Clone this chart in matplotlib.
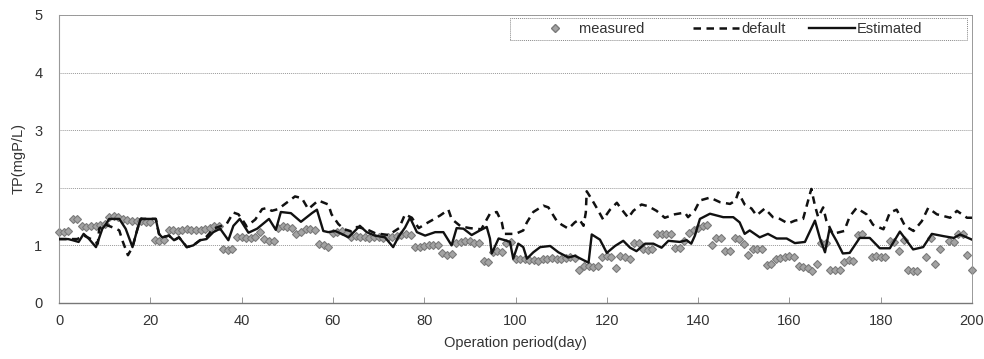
import matplotlib
matplotlib.use("Agg")
import matplotlib.pyplot as plt
from matplotlib.lines import Line2D
from matplotlib.patches import Rectangle

plt.rcParams['font.family'] = ['Liberation Sans', 'DejaVu Sans']

# ---- data ----
meas_day = list(range(0, 177)) + [178, 179, 180, 181, 182, 183, 184, 185, 186, 187, 188,
                                   190, 191, 192, 193, 195, 196, 197, 198, 199, 200]
meas_val = [1.24, 1.24, 1.25, 1.46, 1.45, 1.33, 1.32, 1.33, 1.34, 1.36, 1.37, 1.50, 1.51, 1.50,
            1.45, 1.44, 1.43, 1.43, 1.42, 1.40, 1.40, 1.09, 1.08, 1.09, 1.26, 1.27, 1.25, 1.27,
            1.28, 1.27, 1.26, 1.27, 1.28, 1.30, 1.33, 1.34, 0.93, 0.92, 0.93, 1.14, 1.15, 1.13,
            1.12, 1.15, 1.23, 1.11, 1.08, 1.07, 1.31, 1.33, 1.32, 1.31, 1.20, 1.24, 1.28, 1.29,
            1.27, 1.03, 1.00, 0.98, 1.22, 1.23, 1.25, 1.22, 1.15, 1.16, 1.14, 1.15, 1.13, 1.14,
            1.15, 1.13, 1.14, 1.15, 1.17, 1.18, 1.19, 1.18, 0.98, 0.97, 0.99, 1.00, 1.01, 1.00,
            0.86, 0.84, 0.85, 1.05, 1.06, 1.08, 1.07, 1.05, 1.04, 0.73, 0.72, 0.88, 0.90, 0.89,
            1.05, 1.06, 0.77, 0.76, 0.77, 0.75, 0.74, 0.73, 0.76, 0.77, 0.78, 0.77, 0.76, 0.78,
            0.79, 0.78, 0.58, 0.65, 0.64, 0.63, 0.64, 0.80, 0.81, 0.80, 0.61, 0.82, 0.80, 0.77,
            1.05, 1.05, 0.93, 0.92, 0.94, 1.19, 1.20, 1.19, 1.20, 0.95, 0.96, 1.07, 1.22, 1.27,
            1.30, 1.33, 1.36, 1.00, 1.13, 1.13, 0.90, 0.91, 1.12, 1.11, 1.02, 0.83, 0.94, 0.93,
            0.94, 0.66, 0.67, 0.76, 0.78, 0.80, 0.81, 0.80, 0.64, 0.62, 0.60, 0.56, 0.67, 1.04,
            1.05, 0.58, 0.57, 0.58, 0.72, 0.74, 0.73, 1.18, 1.19,
            0.80, 0.81, 0.79, 0.80, 1.07, 1.06, 0.90, 1.10, 0.57, 0.55, 0.55,
            0.79, 1.13, 0.67, 0.93, 1.07, 1.06, 1.20, 1.20, 0.84, 0.58]

def_day = [0, 4, 5.5, 7, 8.5, 8.8, 9.9, 12.5, 13.2, 14, 15.1, 16.1, 17.2, 17.9, 21.2, 21.9,
           22.6, 24.1, 25.2, 26.3, 28, 29.4, 30.9, 32.3, 33.8, 36.7, 38.2, 39.3, 40.3, 41.1,
           43, 44.5, 45.6, 46.6, 48, 49.5, 51.7, 53.2, 54.6, 56.8, 59, 59.7, 61.2, 62.5, 64.2,
           65.3, 67.4, 69.3, 72.2, 74.5, 75.8, 77.3, 78.8, 80.2, 82, 83.5, 85.3, 86, 88, 90,
           92.5, 94.4, 95.9, 97, 97.5, 100, 101.7, 102.5, 103.9, 106.1, 107.2, 109, 110.1,
           111.6, 113, 114, 114.9, 115.4, 115.6, 116.7, 117.8, 119.2, 120.7, 122.2, 123.3,
           124.7, 125.8, 127.6, 129.1, 130.9, 132.7, 134.9, 137.1, 137.8, 139.3, 140.4, 142.6,
           144.8, 147, 148.2, 148.8, 150.2, 151.7, 152.8, 154.6, 156.4, 157.9, 159.7, 161.2,
           163, 163.7, 164.8, 165.6, 166.3, 167.4, 168.1, 169.5, 172, 173.2, 174.7, 176.9,
           178.3, 180.6, 182, 183.5, 185.3, 187.2, 189, 190.4, 192.3, 195.2, 196.7, 198.9, 200]
def_val = [1.11, 1.11, 1.17, 1.11, 1.03, 1.29, 1.37, 1.29, 1.26, 1.06, 0.83, 0.97, 1.29, 1.46,
           1.46, 1.20, 1.14, 1.17, 1.09, 1.14, 0.97, 1.00, 1.09, 1.15, 1.29, 1.37, 1.57, 1.54,
           1.43, 1.33, 1.45, 1.63, 1.65, 1.60, 1.63, 1.72, 1.85, 1.82, 1.63, 1.78, 1.71, 1.54,
           1.37, 1.28, 1.24, 1.32, 1.28, 1.21, 1.18, 1.30, 1.54, 1.48, 1.30, 1.37, 1.45, 1.52,
           1.62, 1.46, 1.33, 1.30, 1.28, 1.55, 1.58, 1.40, 1.20, 1.20, 1.26, 1.40, 1.58, 1.69,
           1.66, 1.43, 1.36, 1.29, 1.40, 1.45, 1.34, 1.57, 1.94, 1.80, 1.65, 1.45, 1.62, 1.74,
           1.62, 1.48, 1.60, 1.71, 1.68, 1.60, 1.48, 1.54, 1.57, 1.49, 1.61, 1.78, 1.83, 1.75,
           1.72, 1.78, 1.92, 1.71, 1.64, 1.52, 1.64, 1.49, 1.46, 1.38, 1.43, 1.46, 1.66, 1.98,
           1.69, 1.49, 1.66, 1.43, 1.20, 1.25, 1.50, 1.65, 1.54, 1.36, 1.28, 1.57, 1.62, 1.34,
           1.25, 1.42, 1.65, 1.54, 1.48, 1.60, 1.48, 1.48]

est_day = [0, 2, 3, 4.3, 5.4, 6.6, 8.1, 9.5, 10.3, 11, 13.2, 14.6, 16.1, 17.2, 17.9, 21.2,
           21.9, 22.6, 24.1, 25.2, 26.3, 28, 29.4, 30.9, 32.3, 33.8, 35.3, 37.1, 38.2, 39.6,
           41.5, 43.4, 46, 47.5, 48.6, 50.8, 53, 55.4, 56.5, 57.9, 59, 60.5, 61.9, 63.4, 64.8,
           65.9, 67.4, 69.2, 71.4, 73.2, 74.3, 75.8, 76.9, 78.4, 80.2, 82.4, 84.2, 86, 87.1,
           88.6, 90.4, 92.2, 93.7, 94.4, 94.8, 96.3, 97.7, 98.8, 99.5, 100.6, 101.7, 102.5,
           103.9, 105.4, 107.6, 109.4, 111.6, 113, 114.5, 116, 116.7, 118.5, 120, 121.8, 123.6,
           125.1, 126.5, 128.4, 130.2, 132, 133.5, 136, 137.5, 138.5, 139.3, 140.4, 142.6,
           145.5, 147.7, 149.1, 150.2, 151.3, 153.5, 155.3, 157.2, 159.4, 161.2, 163.4, 165.6,
           166.7, 167.8, 168.8, 170.3, 171.7, 173.2, 175.4, 177.6, 179.8, 182, 184.2, 187.1,
           189.3, 191.2, 193.8, 196, 197.4, 200]
est_val = [1.11, 1.11, 1.09, 1.06, 1.20, 1.11, 0.97, 1.29, 1.37, 1.46, 1.46, 1.29, 0.97, 1.29,
           1.46, 1.46, 1.20, 1.14, 1.17, 1.09, 1.14, 0.97, 1.00, 1.09, 1.11, 1.23, 1.29, 1.09,
           1.34, 1.46, 1.22, 1.29, 1.46, 1.27, 1.58, 1.56, 1.41, 1.56, 1.62, 1.25, 1.23, 1.25,
           1.20, 1.14, 1.25, 1.34, 1.23, 1.17, 1.14, 0.97, 1.14, 1.31, 1.48, 1.23, 1.17, 1.23,
           1.23, 1.00, 1.30, 1.29, 1.18, 1.26, 1.32, 1.12, 0.86, 1.12, 1.09, 1.06, 0.77, 1.03,
           0.97, 0.77, 0.88, 0.97, 0.99, 0.88, 0.79, 0.82, 0.76, 0.70, 1.19, 1.10, 0.87, 0.99,
           1.08, 0.96, 0.90, 1.03, 1.03, 0.96, 1.08, 1.06, 1.09, 1.03, 1.17, 1.46, 1.55, 1.49,
           1.49, 1.40, 1.20, 1.26, 1.14, 1.20, 1.12, 1.12, 1.04, 1.06, 1.43, 1.12, 0.88, 1.29,
           1.08, 0.86, 0.87, 1.13, 1.13, 0.95, 0.95, 1.24, 0.93, 0.97, 1.20, 1.16, 1.13, 1.19,
           1.10]

x_ticks = [0, 20, 40, 60, 80, 100, 120, 140, 160, 180, 200]
y_ticks = [0, 1, 2, 3, 4, 5]
legend_labels = ['measured', 'default', 'Estimated']

# ---- figure ----
W, H = 984, 359
fig = plt.figure(figsize=(W / 100, H / 100), dpi=100)
ax = fig.add_axes([59 / W, 1 - 303 / H, (972 - 59) / W, (303 - 15) / H])

ax.plot(meas_day, meas_val, linestyle='none', marker='D', markersize=4.0,
        markerfacecolor='#a3a3a3', markeredgecolor='#7a7a7a', markeredgewidth=0.8,
        zorder=2, clip_on=False)
ax.plot(def_day, def_val, color='#111111', linewidth=1.8, linestyle=(0, (3, 2.2)), zorder=3)
ax.plot(est_day, est_val, color='#111111', linewidth=1.7, zorder=4)

ax.set_xlim(0, 200)
ax.set_ylim(0, 5)
ax.set_xticks(x_ticks)
ax.set_yticks(y_ticks)
ax.tick_params(direction='in', length=4, width=0.6, colors='#888888',
               labelcolor='#333333', labelsize=10.5)
ax.tick_params(axis='x', pad=8)
ax.tick_params(axis='y', pad=12, length=0)

for y in y_ticks[1:]:
    ax.axhline(y, color='#9a9a9a', linewidth=0.7, linestyle=(0, (1, 1)), zorder=1)

ax.spines['left'].set_color('#999999')
ax.spines['left'].set_linewidth(0.8)
ax.spines['bottom'].set_color('#777777')
ax.spines['bottom'].set_linewidth(1.0)
for s in ['top', 'right']:
    ax.spines[s].set_color('#999999')
    ax.spines[s].set_linestyle((0, (1, 1)))
    ax.spines[s].set_linewidth(0.7)

ax.set_xlabel('Operation period(day)', fontsize=10.5, color='#333333', labelpad=6)
ax.set_ylabel('TP(mgP/L)', fontsize=10.5, color='#333333', labelpad=6)

# legend (frame drawn separately as a dotted box)
handles = [
    Line2D([], [], linestyle='none', marker='D', markersize=4.0, markerfacecolor='#a3a3a3',
           markeredgecolor='#7a7a7a'),
    Line2D([], [], color='#111111', linewidth=1.8, linestyle=(0, (3, 2.2))),
    Line2D([], [], color='#111111', linewidth=1.7),
]
shown = [legend_labels[0] + ' ' * 6, legend_labels[1], legend_labels[2]]
leg = ax.legend(handles, shown, ncol=3,
                loc='upper left', bbox_to_anchor=((521 - 59) / 913, (303 - 12) / 288),
                fontsize=10.5, frameon=False, borderpad=0.2, handlelength=3.2,
                columnspacing=1.6, handletextpad=0.1, labelcolor='#333333')
fig.patches.append(Rectangle((510 / W, 1 - 39.5 / H), 457 / W, 21.5 / H,
                             transform=fig.transFigure, fill=False,
                             edgecolor='#888888', linewidth=0.7, linestyle=(0, (1, 1))))

fig.savefig('out.png', dpi=100)
